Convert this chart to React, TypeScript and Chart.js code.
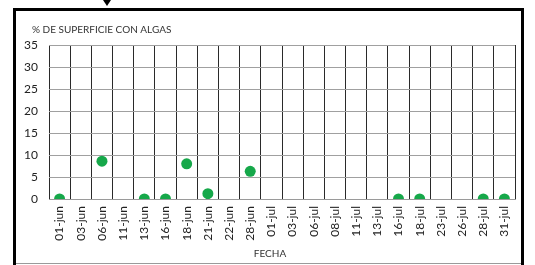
import React, { useEffect, useRef } from "react";
import { Chart, registerables } from "chart.js";

Chart.register(...registerables);

const categories = [
  "01-jun", "03-jun", "06-jun", "11-jun", "13-jun", "16-jun", "18-jun", "21-jun",
  "22-jun", "28-jun", "01-jul", "03-jul", "06-jul", "08-jul", "11-jul", "13-jul",
  "16-jul", "18-jul", "23-jul", "26-jul", "28-jul", "31-jul",
];
const algasValues: (number | null)[] = [
  0, null, 8.6, null, 0, 0, 8, 1.2,
  null, 6.3, null, null, null, null, null, null,
  0, 0, null, null, 0, 0,
];
const yTicks = [0, 5, 10, 15, 20, 25, 30, 35];
const yTitle = "% DE SUPERFICIE CON ALGAS";
const xTitle = "FECHA";

const FONT = "Lato, 'Noto Sans', sans-serif";

const framePlugin = {
  id: "frame",
  beforeDraw(chart: any) {
    const ctx = chart.ctx;
    ctx.save();
    ctx.fillStyle = "#ffffff";
    ctx.fillRect(0, 0, chart.width, chart.height);
    ctx.restore();
  },
  afterDraw(chart: any) {
    const ctx = chart.ctx;
    ctx.save();
    // outer frame
    ctx.strokeStyle = "#9a9a9a";
    ctx.lineWidth = 1;
    ctx.beginPath();
    ctx.moveTo(14, 263.5);
    ctx.lineTo(522, 263.5);
    ctx.stroke();
    ctx.strokeStyle = "#000000";
    ctx.lineWidth = 3;
    ctx.beginPath();
    ctx.moveTo(14.5, 265);
    ctx.lineTo(14.5, 9.5);
    ctx.lineTo(522.5, 9.5);
    ctx.lineTo(522.5, 265);
    ctx.stroke();
    // small arrow
    ctx.fillStyle = "#000000";
    ctx.beginPath();
    ctx.moveTo(103, 0);
    ctx.lineTo(111, 0);
    ctx.lineTo(107, 6);
    ctx.closePath();
    ctx.fill();
    // titles
    ctx.fillStyle = "#333333";
    ctx.font = "10px " + FONT;
    ctx.textBaseline = "middle";
    ctx.textAlign = "left";
    ctx.fillText(yTitle, 32, 30);
    ctx.textAlign = "center";
    ctx.fillText(xTitle, 270, 254);
    ctx.restore();
  },
};

export default function App() {
  const ref = useRef<HTMLCanvasElement>(null);
  useEffect(() => {
    if (!ref.current) return;
    const chart = new Chart(ref.current, {
      type: "line",
      data: {
        labels: categories,
        datasets: [
          {
            label: "Algas",
            data: algasValues,
            showLine: false,
            pointRadius: 5.5,
            pointHoverRadius: 5.5,
            pointBackgroundColor: "#16a84a",
            pointBorderColor: "#16a84a",
            pointBorderWidth: 0,
          },
        ],
      },
      options: {
        responsive: false,
        animation: false,
        layout: { padding: { left: 0, top: 45, right: 20, bottom: 0 } },
        plugins: {
          legend: { display: false },
          tooltip: { enabled: false },
          title: { display: false },
        },
        scales: {
          x: {
            type: "category",
            offset: true,
            grid: { color: "#2a2a2a", lineWidth: 1, offset: true, drawTicks: false },
            border: { color: "#9a9a9a" },
            ticks: {
              autoSkip: false,
              maxRotation: 90,
              minRotation: 90,
              padding: 7,
              color: "#222222",
              font: { family: FONT, size: 12 },
            },
            afterFit(scale: any) {
              scale.height = 66;
            },
          },
          y: {
            min: 0,
            max: 35,
            afterBuildTicks(scale: any) {
              scale.ticks = yTicks.map((v) => ({ value: v }));
            },
            grid: { color: "#a0a0a0", lineWidth: 1, drawTicks: false },
            border: { display: false },
            ticks: {
              padding: 11,
              color: "#222222",
              font: { family: FONT, size: 12 },
            },
            afterFit(scale: any) {
              scale.width = 49;
            },
          },
        },
      },
      plugins: [framePlugin],
    });
    return () => chart.destroy();
  }, []);
  return (
    <div style={{ position: "absolute", left: 0, top: 0, width: 535, height: 265 }}>
      <canvas ref={ref} width={535} height={265} style={{ display: "block" }} />
    </div>
  );
}
